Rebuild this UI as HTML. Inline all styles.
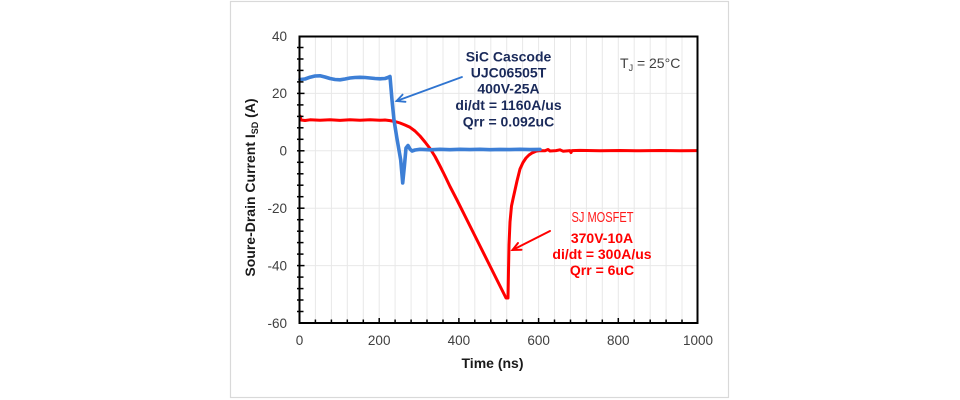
<!DOCTYPE html>
<html>
<head>
<meta charset="utf-8">
<style>
html,body{margin:0;padding:0;background:#fff;}
svg{display:block;}
text{font-family:"Liberation Sans",Arial,sans-serif;}
</style>
</head>
<body>
<svg width="960" height="400" viewBox="0 0 960 400" xmlns="http://www.w3.org/2000/svg">
<rect x="0" y="0" width="960" height="400" fill="#fff"/>
<rect x="230.5" y="1.5" width="498" height="396" fill="#fff" stroke="#d9d9d9" stroke-width="1.2"/>

<!-- vertical gridlines every 40ns -->
<g stroke="#e8e8e8" stroke-width="1">
<line x1="315.4" y1="37" x2="315.4" y2="322"/>
<line x1="331.4" y1="37" x2="331.4" y2="322"/>
<line x1="347.3" y1="37" x2="347.3" y2="322"/>
<line x1="363.3" y1="37" x2="363.3" y2="322"/>
<line x1="379.2" y1="37" x2="379.2" y2="322"/>
<line x1="395.1" y1="37" x2="395.1" y2="322"/>
<line x1="411.1" y1="37" x2="411.1" y2="322"/>
<line x1="427.0" y1="37" x2="427.0" y2="322"/>
<line x1="443.0" y1="37" x2="443.0" y2="322"/>
<line x1="458.9" y1="37" x2="458.9" y2="322"/>
<line x1="474.8" y1="37" x2="474.8" y2="322"/>
<line x1="490.8" y1="37" x2="490.8" y2="322"/>
<line x1="506.7" y1="37" x2="506.7" y2="322"/>
<line x1="522.6" y1="37" x2="522.6" y2="322"/>
<line x1="538.6" y1="37" x2="538.6" y2="322"/>
<line x1="554.5" y1="37" x2="554.5" y2="322"/>
<line x1="570.5" y1="37" x2="570.5" y2="322"/>
<line x1="586.4" y1="37" x2="586.4" y2="322"/>
<line x1="602.3" y1="37" x2="602.3" y2="322"/>
<line x1="618.3" y1="37" x2="618.3" y2="322"/>
<line x1="634.2" y1="37" x2="634.2" y2="322"/>
<line x1="650.2" y1="37" x2="650.2" y2="322"/>
<line x1="666.1" y1="37" x2="666.1" y2="322"/>
<line x1="682.0" y1="37" x2="682.0" y2="322"/>
<!-- horizontal major -->
<line x1="300" y1="93.4" x2="697" y2="93.4"/>
<line x1="300" y1="150.8" x2="697" y2="150.8"/>
<line x1="300" y1="208.2" x2="697" y2="208.2"/>
<line x1="300" y1="265.6" x2="697" y2="265.6"/>
</g>

<!-- Red series -->
<polyline fill="none" stroke="#ff0000" stroke-width="3" stroke-linejoin="round" stroke-linecap="round"
points="300,116 301,120 305,120.5 310,119.8 320,120.3 330,119.7 340,120.4 350,119.8 360,120.2 370,119.8 380,120.3 385,120 390,120.6 395,121.5 400,123 405,125 410,127.3 415,131 420,136 425,142 430,148.5 435,156.5 440,166 445,176 450,186.5 457,200 465,216 472,230 480,246 488,262 495,276 500,286 504,294 506,298 508,298 508.5,270 509,245 510,222 511.5,206 513,199 515,190 517,181 520,169 523,162.5 526,158 529,155 532,153 536,151.2 540,150.6 545,150.8 548,149.5 550,151 556,150.6 560,149.8 563,151.2 570,150.6 571,152.5 572,150.6 580,150.4 600,150.8 620,150.5 640,150.8 660,150.5 680,150.8 697,150.6"/>

<!-- Blue series -->
<polyline fill="none" stroke="#3d7fd6" stroke-width="3.6" stroke-linejoin="round" stroke-linecap="round"
points="300,79.5 305,79 310,77.2 315,76 320,75.8 325,77 330,78.5 335,79.5 340,79.8 345,79 350,78 355,77.5 360,77.3 365,77.5 370,78 375,78.5 380,78.8 385,78.5 388,77.5 390,76.5 392,100 394,120 396.7,137 400.7,160 402.7,183 404.5,165 406,148 408,145.5 410,149 412,151 415,150 420,149.3 430,149.8 440,149.3 450,149.7 460,149.3 470,149.6 480,149.3 490,149.7 500,149.4 510,149.6 520,149.3 530,149.6 540,149.4"/>

<!-- Axes box -->
<rect x="299.5" y="36.5" width="398" height="286.5" fill="none" stroke="#000" stroke-width="2"/>

<!-- Y ticks every 4 units -->
<g stroke="#000" stroke-width="1.5">
<line x1="297" y1="47.5" x2="303.5" y2="47.5"/>
<line x1="297" y1="59" x2="303.5" y2="59"/>
<line x1="297" y1="70.4" x2="303.5" y2="70.4"/>
<line x1="297" y1="81.9" x2="303.5" y2="81.9"/>
<line x1="297" y1="93.4" x2="304.5" y2="93.4"/>
<line x1="297" y1="104.9" x2="303.5" y2="104.9"/>
<line x1="297" y1="116.4" x2="303.5" y2="116.4"/>
<line x1="297" y1="127.8" x2="303.5" y2="127.8"/>
<line x1="297" y1="139.3" x2="303.5" y2="139.3"/>
<line x1="297" y1="150.8" x2="304.5" y2="150.8"/>
<line x1="297" y1="162.3" x2="303.5" y2="162.3"/>
<line x1="297" y1="173.8" x2="303.5" y2="173.8"/>
<line x1="297" y1="185.2" x2="303.5" y2="185.2"/>
<line x1="297" y1="196.7" x2="303.5" y2="196.7"/>
<line x1="297" y1="208.2" x2="304.5" y2="208.2"/>
<line x1="297" y1="219.7" x2="303.5" y2="219.7"/>
<line x1="297" y1="231.2" x2="303.5" y2="231.2"/>
<line x1="297" y1="242.6" x2="303.5" y2="242.6"/>
<line x1="297" y1="254.1" x2="303.5" y2="254.1"/>
<line x1="297" y1="265.6" x2="304.5" y2="265.6"/>
<line x1="297" y1="277.1" x2="303.5" y2="277.1"/>
<line x1="297" y1="288.6" x2="303.5" y2="288.6"/>
<line x1="297" y1="300" x2="303.5" y2="300"/>
<line x1="297" y1="311.5" x2="303.5" y2="311.5"/>
</g>
<!-- X ticks every 40ns -->
<g stroke="#000" stroke-width="1.5">
<line x1="315.4" y1="323" x2="315.4" y2="319.5"/>
<line x1="331.4" y1="323" x2="331.4" y2="319.5"/>
<line x1="347.3" y1="323" x2="347.3" y2="319.5"/>
<line x1="363.3" y1="323" x2="363.3" y2="319.5"/>
<line x1="379.2" y1="323" x2="379.2" y2="318"/>
<line x1="395.1" y1="323" x2="395.1" y2="319.5"/>
<line x1="411.1" y1="323" x2="411.1" y2="319.5"/>
<line x1="427.0" y1="323" x2="427.0" y2="319.5"/>
<line x1="443.0" y1="323" x2="443.0" y2="319.5"/>
<line x1="458.9" y1="323" x2="458.9" y2="318"/>
<line x1="474.8" y1="323" x2="474.8" y2="319.5"/>
<line x1="490.8" y1="323" x2="490.8" y2="319.5"/>
<line x1="506.7" y1="323" x2="506.7" y2="319.5"/>
<line x1="522.6" y1="323" x2="522.6" y2="319.5"/>
<line x1="538.6" y1="323" x2="538.6" y2="318"/>
<line x1="554.5" y1="323" x2="554.5" y2="319.5"/>
<line x1="570.5" y1="323" x2="570.5" y2="319.5"/>
<line x1="586.4" y1="323" x2="586.4" y2="319.5"/>
<line x1="602.3" y1="323" x2="602.3" y2="319.5"/>
<line x1="618.3" y1="323" x2="618.3" y2="318"/>
<line x1="634.2" y1="323" x2="634.2" y2="319.5"/>
<line x1="650.2" y1="323" x2="650.2" y2="319.5"/>
<line x1="666.1" y1="323" x2="666.1" y2="319.5"/>
<line x1="682.0" y1="323" x2="682.0" y2="319.5"/>
</g>

<!-- Y tick labels -->
<g font-size="13.5" fill="#404040" text-anchor="end">
<text x="287" y="41">40</text>
<text x="287" y="98.2">20</text>
<text x="287" y="155.6">0</text>
<text x="287" y="213">-20</text>
<text x="287" y="270.4">-40</text>
<text x="287" y="327.8">-60</text>
</g>
<!-- X tick labels -->
<g font-size="13.5" fill="#404040" text-anchor="middle">
<text x="299.5" y="345">0</text>
<text x="379.2" y="345">200</text>
<text x="458.9" y="345">400</text>
<text x="538.6" y="345">600</text>
<text x="618.3" y="345">800</text>
<text x="698" y="345">1000</text>
</g>

<!-- Axis titles -->
<text x="492.5" y="368" font-size="14" font-weight="bold" fill="#1a1a1a" text-anchor="middle">Time (ns)</text>
<text transform="translate(255,187.5) rotate(-90)" font-size="14" font-weight="bold" fill="#1a1a1a" text-anchor="middle">Soure-Drain Current I<tspan font-size="9" dy="3">SD</tspan><tspan dy="-3"> (A)</tspan></text>

<!-- TJ -->
<text x="620" y="68" font-size="14" fill="#404040">T<tspan font-size="9" dy="3">J</tspan><tspan dy="-3"> = 25°C</tspan></text>

<!-- SiC annotation -->
<g font-size="14" font-weight="bold" fill="#1a2a5a" text-anchor="middle">
<text x="508.5" y="61.5">SiC Cascode</text>
<text x="508.5" y="77.5">UJC06505T</text>
<text x="508.5" y="93.5">400V-25A</text>
<text x="508.5" y="110">di/dt = 1160A/us</text>
<text x="508.5" y="126.5">Qrr = 0.092uC</text>
</g>
<g stroke="#2f74d0" stroke-width="1.8" fill="none" stroke-linecap="round">
<line x1="462" y1="77" x2="396.5" y2="101"/>
<polyline points="402.6,94.6 396.5,101 405.5,101.8"/>
</g>

<!-- SJ annotation -->
<text x="602.5" y="222" font-size="14.5" fill="#ff1a1a" text-anchor="middle" textLength="62" lengthAdjust="spacingAndGlyphs">SJ MOSFET</text>
<g font-size="14" font-weight="bold" fill="#ff0000" text-anchor="middle">
<text x="602" y="243">370V-10A</text>
<text x="602" y="259">di/dt = 300A/us</text>
<text x="602" y="275">Qrr = 6uC</text>
</g>
<g stroke="#ff0000" stroke-width="2" fill="none" stroke-linecap="round">
<line x1="550" y1="231" x2="512.5" y2="250"/>
<polyline points="518,243 512.5,250 521.5,249.8"/>
</g>
</svg>
</body>
</html>
